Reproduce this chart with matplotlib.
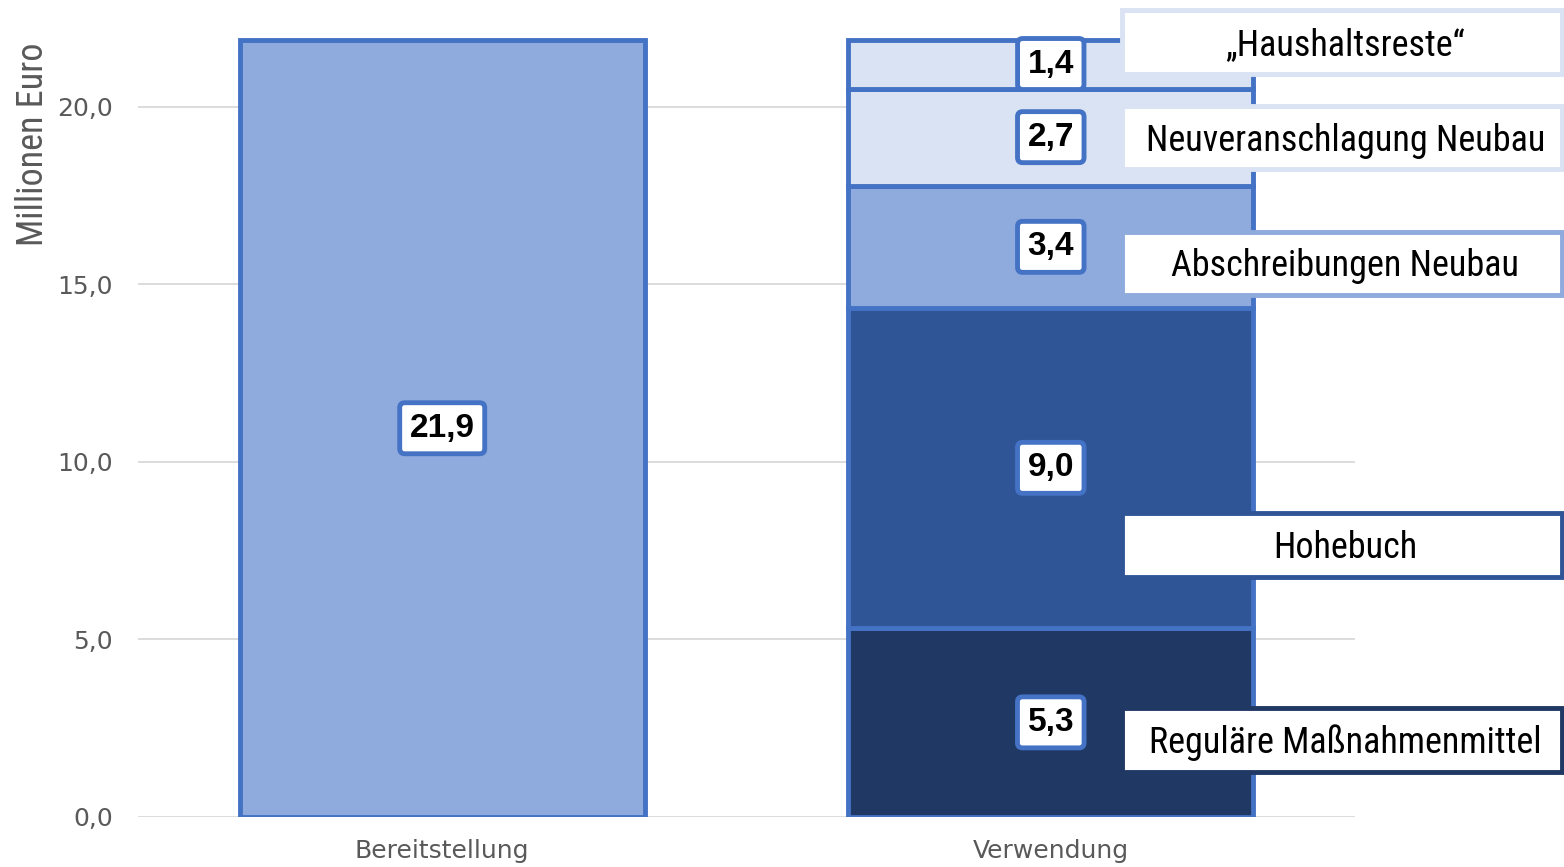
import matplotlib
matplotlib.use("Agg")
import matplotlib.pyplot as plt
from matplotlib.patches import Rectangle
from matplotlib import font_manager

# data
categories = ["Bereitstellung", "Verwendung"]
provided = 21.9
usage_names = ["Reguläre Maßnahmenmittel", "Hohebuch", "Abschreibungen Neubau",
               "Neuveranschlagung Neubau", "\u201eHaushaltsreste\u201c"]
usage_values = [5.33, 9.01, 3.44, 2.74, 1.38]

# styles / layout
usage_colors = ["#203864", "#2F5597", "#8FAADC", "#DAE3F3", "#DAE3F3"]
provided_color = "#8FAADC"
edge = "#4472C4"
callout_y = [2.17, 7.66, 15.6, 19.13, 21.83]   # data units, placed by hand
bar_w = 0.665

names = set(f.name for f in font_manager.fontManager.ttflist)
narrow = "Roboto"
narrow_size = 23
for cand in ["Liberation Sans Narrow", "Roboto Condensed", "Open Sans Condensed"]:
    if cand in names:
        narrow, narrow_size = cand, 26
        break


def fmt(v):
    return f"{v:.1f}".replace(".", ",")


def value_box(ax, x, y, v):
    ax.text(x, y, fmt(v), ha="center", va="center", fontsize=24, fontweight="bold",
            family="Liberation Sans", zorder=6,
            bbox=dict(boxstyle="round,pad=0.3,rounding_size=0.15", fc="white", ec=edge, lw=3.5))


fig = plt.figure(figsize=(15.64, 8.67), dpi=100)
ax = fig.add_axes([0.0882, 0.0577, 0.7782, 0.9008])

ax.bar(0, provided, bar_w, color=provided_color, edgecolor=edge, lw=3.5, zorder=2)
value_box(ax, 0, provided / 2, provided)

bottom = 0
for v, c in zip(usage_values, usage_colors):
    ax.bar(1, v, bar_w, bottom=bottom, color=c, edgecolor=edge, lw=3.5, zorder=2)
    value_box(ax, 1, bottom + v / 2, v)
    bottom += v

# callout boxes on the right
box_x0, box_x1, box_h = 1.1175, 1.8406, 1.78
for name, c, y in zip(usage_names, usage_colors, callout_y):
    r = Rectangle((box_x0, y - box_h / 2), box_x1 - box_x0, box_h, fc="white", ec=c,
                  lw=3.5, zorder=4, clip_on=False)
    ax.add_patch(r)
    ax.text(1.484, y - 0.08, name, ha="center", va="center", fontsize=narrow_size,
            family=narrow, zorder=5, clip_on=False)

ax.set_xlim(-0.5, 1.5)
ax.set_ylim(0, 22)
ax.set_yticks([0, 5, 10, 15, 20])
ax.set_yticklabels([fmt(t) for t in [0, 5, 10, 15, 20]])
ax.set_xticks([0, 1])
ax.set_xticklabels(categories)
ax.tick_params(length=0, labelsize=18, labelcolor="#595959")
ax.tick_params(axis="y", pad=18)
ax.tick_params(axis="x", pad=16)
for s in ax.spines.values():
    s.set_visible(False)
ax.set_axisbelow(True)
ax.yaxis.grid(True, color="#D9D9D9", lw=1.3, zorder=0)

fig.text(33 / 1564, 1 - 144 / 867, "Millionen Euro", rotation=90, ha="center", va="center",
         fontsize=narrow_size, family=narrow, color="#595959")

fig.savefig("out.png", dpi=100)
